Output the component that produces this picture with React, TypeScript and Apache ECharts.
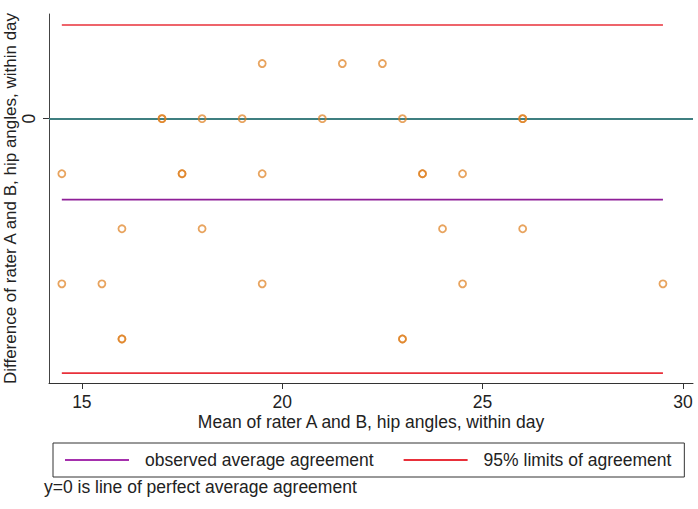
import React, { useEffect, useRef } from "react";
import * as echarts from "echarts";

// Mean of rater A and B (x) and their difference (y), hip angles, within day
const meanAngle = [
  19.5, 21.5, 22.5,
  17, 17, 18, 19, 21, 23, 26, 26,
  14.5, 17.5, 17.5, 19.5, 23.5, 23.5, 24.5,
  16, 18, 24, 26,
  14.5, 15.5, 19.5, 24.5, 29.5,
  16, 16, 23, 23,
];
const diffAngle = [
  1, 1, 1,
  0, 0, 0, 0, 0, 0, 0, 0,
  -1, -1, -1, -1, -1, -1, -1,
  -2, -2, -2, -2,
  -3, -3, -3, -3, -3,
  -4, -4, -4, -4,
];
const observedMean = -1.47;
const upperLimit = 1.7;
const lowerLimit = -4.62;
const xTicks = [15, 20, 25, 30];
const yTicks = [0];

const FONT = "'Liberation Sans', Arial, Helvetica, sans-serif";

export default function App() {
  const ref = useRef<HTMLDivElement>(null);
  useEffect(() => {
    if (!ref.current) return;
    const chart = echarts.init(ref.current, undefined, { renderer: "svg" });
    const xMin = Math.min(...meanAngle);
    const xMax = Math.max(...meanAngle);
    const points = meanAngle.map((m, i) => [m, diffAngle[i]]);
    const hline = (v: number) => [
      [xMin, v],
      [xMax, v],
    ];
    chart.setOption({
      animation: false,
      backgroundColor: "#ffffff",
      textStyle: { fontFamily: FONT },
      grid: {
        left: 49,
        right: 5,
        top: 14,
        bottom: 126,
        containLabel: false,
        outerBoundsMode: "none",
      },
      legend: {
        left: 53,
        top: 443,
        width: 640,
        data: ["observed average agreement", "95% limits of agreement"],
        icon: "rect",
        itemWidth: 64,
        itemHeight: 2,
        itemGap: 30,
        borderColor: "#333",
        borderWidth: 1,
        padding: [7, 13, 7, 12],
        textStyle: {
          fontFamily: FONT,
          fontSize: 17.5,
          color: "#222",
          lineHeight: 20,
          padding: [0, 0, 0, 11],
        },
      },
      graphic: [
        {
          type: "text",
          left: 44,
          top: 478,
          style: {
            text: "y=0 is line of perfect average agreement",
            font: `17.5px ${FONT}`,
            fill: "#222",
          },
        },
      ],
      xAxis: {
        type: "value",
        min: 14.18,
        max: 30.25,
        name: "Mean of rater A and B, hip angles, within day",
        nameLocation: "middle",
        nameGap: 30,
        nameMoveOverlap: false,
        nameTextStyle: { fontSize: 17.5, color: "#222", fontFamily: FONT },
        axisLine: { show: true, onZero: false, lineStyle: { color: "#333", width: 1 } },
        axisTick: { show: true, length: 6, customValues: xTicks, lineStyle: { color: "#333" } },
        axisLabel: { customValues: xTicks, fontSize: 17.5, color: "#222", margin: 10, fontFamily: FONT },
        splitLine: { show: false },
      },
      yAxis: {
        type: "value",
        min: -4.8,
        max: 1.9,
        name: "Difference of rater A and B, hip angles, within day",
        nameLocation: "middle",
        nameGap: 30,
        nameMoveOverlap: false,
        nameTextStyle: { fontSize: 17, color: "#222", fontFamily: FONT },
        axisLine: { show: true, onZero: false, lineStyle: { color: "#444", width: 1 } },
        axisTick: { show: true, length: 6, customValues: yTicks, lineStyle: { color: "#333" } },
        axisLabel: { customValues: yTicks, fontSize: 17.5, color: "#222", rotate: 90, margin: 11, fontFamily: FONT },
        splitLine: { show: false },
      },
      series: [
        {
          type: "scatter",
          name: "points",
          data: points,
          symbol: "circle",
          symbolSize: 7,
          itemStyle: {
            color: "rgba(255,255,255,0)",
            borderColor: "rgba(222,126,28,0.88)",
            borderWidth: 1.8,
          },
          markLine: {
            silent: true,
            symbol: "none",
            label: { show: false },
            lineStyle: { color: "#3f7f80", width: 1.8, type: "solid" },
            data: [{ yAxis: 0 }],
          },
          z: 5,
        },
        {
          type: "line",
          name: "observed average agreement",
          data: hline(observedMean),
          symbol: "none",
          lineStyle: { color: "#8e1f98", width: 1.6 },
          itemStyle: { color: "#a530ad" },
        },
        {
          type: "line",
          name: "95% limits of agreement",
          data: hline(upperLimit),
          symbol: "none",
          lineStyle: { color: "#e8303a", width: 1.6 },
          itemStyle: { color: "#e8303a" },
        },
        {
          type: "line",
          name: "95% limits of agreement",
          data: hline(lowerLimit),
          symbol: "none",
          lineStyle: { color: "#e8303a", width: 1.6 },
          itemStyle: { color: "#e8303a" },
        },
      ],
    });
    return () => chart.dispose();
  }, []);
  return (
    <div
      ref={ref}
      style={{ position: "fixed", left: 0, top: 0, width: 698, height: 509, background: "#fff" }}
    />
  );
}
